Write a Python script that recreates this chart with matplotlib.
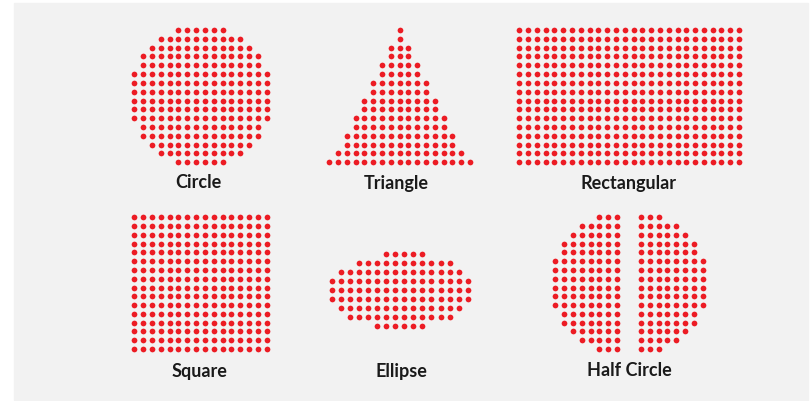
import matplotlib
matplotlib.use("Agg")
import matplotlib.pyplot as plt
from matplotlib.patches import Rectangle

# shapes as rows of dots: (first column, last column) for each row
circle_rows = [(5, 10), (3, 12), (2, 13), (1, 14), (1, 14)] + [(0, 15)] * 6 + \
    [(1, 14), (1, 14), (2, 13), (3, 12), (5, 10)]
triangle_half = [0, 0, 1, 1, 2, 2, 3, 3, 4, 4, 5, 5, 6, 6, 7, 8]
rect_cols, rect_rows = 26, 16
square_cols, square_rows = 16, 16
ellipse_rows = [(6, 10), (3, 13), (1, 14), (0, 15), (0, 15), (0, 15),
                (1, 14), (2, 13), (5, 10)]

labels = ["Circle", "Triangle", "Rectangular", "Square", "Ellipse", "Half Circle"]

RED = "#ec1c24"
DOT = 17


def dots_from_rows(rows, x0, y0, dx, dy, gap_after=None, gap=0.0):
    xs, ys = [], []
    for r, (a, b) in enumerate(rows):
        for c in range(a, b + 1):
            x = x0 + c * dx
            if gap_after is not None and c > gap_after:
                x += gap
            xs.append(x)
            ys.append(y0 + r * dy)
    return xs, ys


fig = plt.figure(figsize=(8.10, 4.01), dpi=100)
ax = fig.add_axes([0, 0, 1, 1])
ax.set_xlim(0, 810)
ax.set_ylim(401, 0)
ax.axis("off")
fig.patch.set_facecolor("white")
ax.add_patch(Rectangle((14, 3), 794, 397, color="#f2f2f2", zorder=0))

# circle
xs, ys = dots_from_rows(circle_rows, 134.3, 30.0, 8.83, 8.82)
ax.scatter(xs, ys, s=DOT, color=RED, lw=0)

# triangle
tri_rows = [(8 - h, 8 + h) for h in triangle_half]
xs, ys = dots_from_rows(tri_rows, 329.3, 30.0, 8.79, 8.82)
ax.scatter(xs, ys, s=DOT, color=RED, lw=0)

# rectangle
xs, ys = dots_from_rows([(0, rect_cols - 1)] * rect_rows, 519.3, 30.0, 8.79, 8.82)
ax.scatter(xs, ys, s=DOT, color=RED, lw=0)

# square
xs, ys = dots_from_rows([(0, square_cols - 1)] * square_rows, 134.3, 217.3, 8.83, 8.78)
ax.scatter(xs, ys, s=DOT, color=RED, lw=0)

# ellipse
xs, ys = dots_from_rows(ellipse_rows, 331.7, 253.7, 9.07, 9.08)
ax.scatter(xs, ys, s=DOT, color=RED, lw=0)

# half circle: the circle split down the middle
xs, ys = dots_from_rows(circle_rows, 555.3, 217.3, 8.81, 8.78, gap_after=7, gap=15.2)
ax.scatter(xs, ys, s=DOT, color=RED, lw=0)

label_pos = [(198, 183), (396, 183), (628, 183), (199, 371), (401, 371), (629, 371)]
for name, (x, y) in zip(labels, label_pos):
    ax.text(x, y, name, ha="center", va="center", fontsize=13, fontweight="bold",
            family="Lato", color="#1a1a1a")

fig.savefig("out.png", dpi=100, facecolor="white")
